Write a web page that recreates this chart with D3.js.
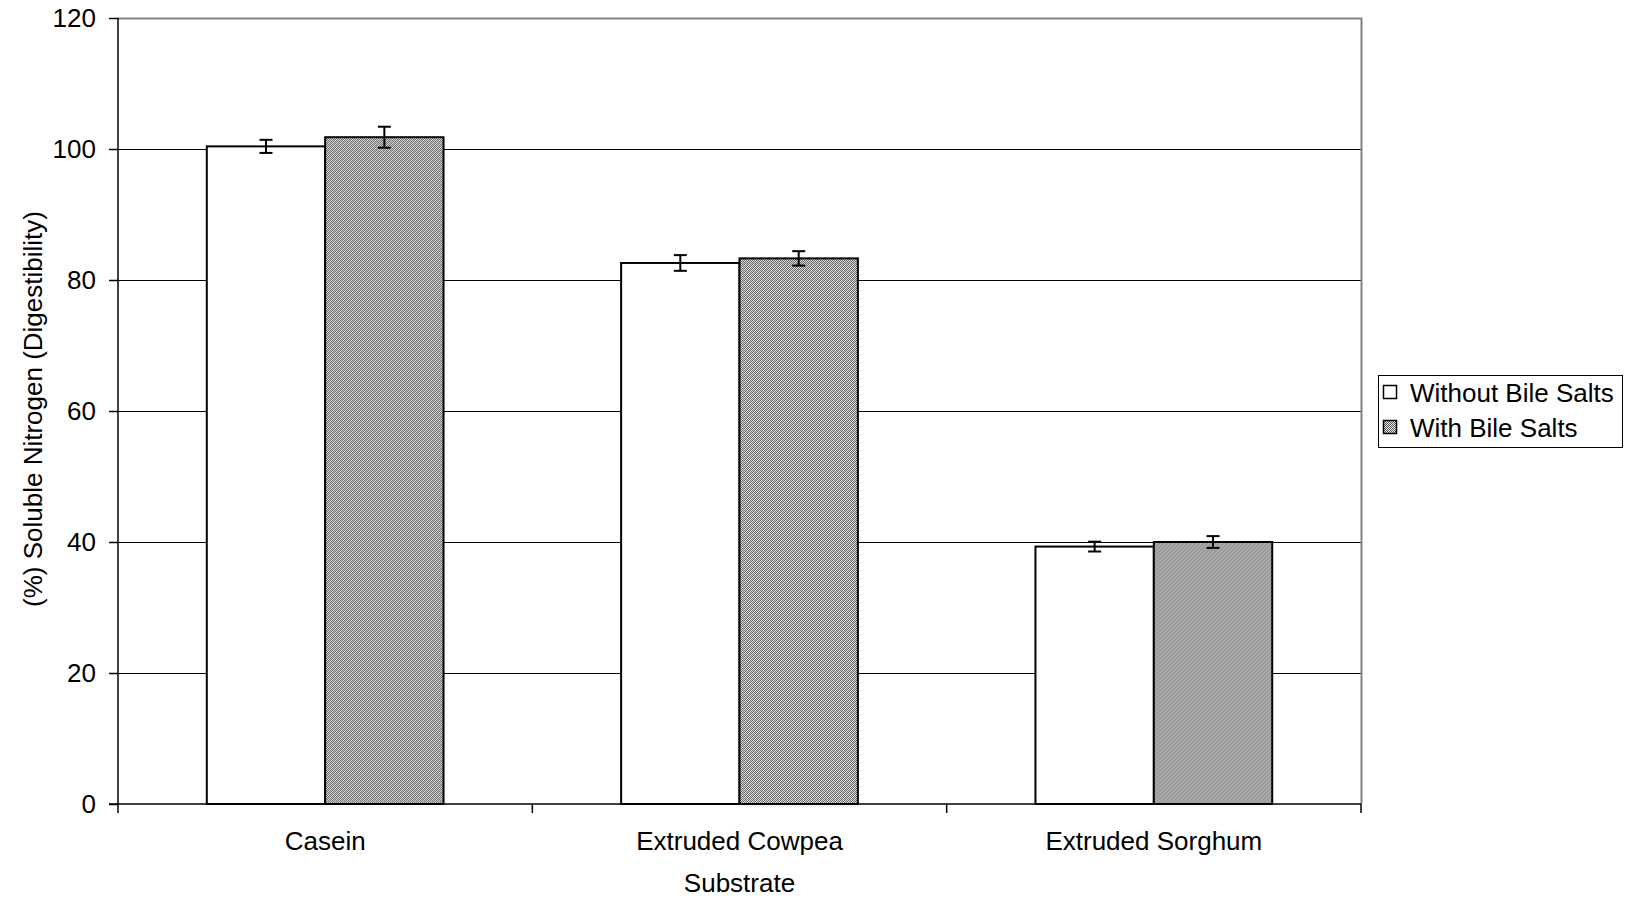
<!DOCTYPE html>
<html>
<head>
<meta charset="utf-8">
<script src="https://cdn.jsdelivr.net/npm/d3@7"></script>
<style>
  html, body { margin: 0; padding: 0; background: #fff; }
  svg { display: block; font-family: "Liberation Sans", Arial, sans-serif; }
</style>
</head>
<body>
<svg id="chart" width="1625" height="901"></svg>
<script>
const categories = ["Casein", "Extruded Cowpea", "Extruded Sorghum"];
const seriesNames = ["Without Bile Salts", "With Bile Salts"];
const withoutValues = [100.4, 82.6, 39.3];
const withoutErrors = [1.0, 1.2, 0.75];
const withValues = [101.8, 83.3, 40.0];
const withErrors = [1.6, 1.1, 0.9];
const yTicks = [0, 20, 40, 60, 80, 100, 120];
const xTitle = "Substrate";
const yTitle = "(%) Soluble Nitrogen (Digestibility)";

const svg = d3.select("#chart");
const L = 118, R = 1361, T = 18, B = 804;
const fs = 26;

const defs = svg.append("defs");
const pat = defs.append("pattern").attr("id", "hatch").attr("patternUnits", "userSpaceOnUse")
  .attr("width", 4).attr("height", 4);
const shades = ["#f8f8f8", "#606060", "#dcdcdc", "#505050"];
for (let px = 0; px < 4; px++) {
  for (let py = 0; py < 4; py++) {
    pat.append("rect").attr("x", px).attr("y", py).attr("width", 1).attr("height", 1)
      .attr("fill", shades[(px + py) % 4]);
  }
}

const y = d3.scaleLinear().domain([0, 120]).range([B, T]);
const x0 = d3.scaleBand().domain(categories).range([L, R]).paddingInner(0.4286).paddingOuter(0.2143);
const x1 = d3.scaleBand().domain(seriesNames).range([0, x0.bandwidth()]).padding(0);

const data = categories.map((c, i) => ({
  cat: c,
  vals: [
    { s: seriesNames[0], v: withoutValues[i], e: withoutErrors[i] },
    { s: seriesNames[1], v: withValues[i], e: withErrors[i] }
  ]
}));
const fills = { [seriesNames[0]]: "#ffffff", [seriesNames[1]]: "url(#hatch)" };

// gridlines
svg.append("g").selectAll("line").data(yTicks.filter(t => t > 0 && t < 120)).join("line")
  .attr("x1", L).attr("x2", R).attr("y1", d => Math.round(y(d)) + 0.5).attr("y2", d => Math.round(y(d)) + 0.5)
  .attr("stroke", "#000").attr("stroke-width", 1);
// plot border (top/right gray)
svg.append("path").attr("d", `M${L},${T + 0.5}H${R + 0.5}V${B}`)
  .attr("fill", "none").attr("stroke", "#808080").attr("stroke-width", 2);

// bars
const g = svg.append("g").selectAll("g").data(data).join("g")
  .attr("transform", d => `translate(${x0(d.cat)},0)`);
g.selectAll("rect").data(d => d.vals).join("rect")
  .attr("x", d => x1(d.s)).attr("width", x1.bandwidth())
  .attr("y", d => y(d.v)).attr("height", d => y(0) - y(d.v))
  .attr("fill", d => fills[d.s]).attr("stroke", "#000").attr("stroke-width", 2);
// error bars
const eb = g.selectAll("g.err").data(d => d.vals).join("g").attr("class", "err")
  .attr("transform", d => `translate(${x1(d.s) + x1.bandwidth() / 2},0)`);
eb.append("line").attr("x1", 0).attr("x2", 0).attr("y1", d => y(d.v + d.e)).attr("y2", d => y(d.v - d.e))
  .attr("stroke", "#000").attr("stroke-width", 2);
eb.append("line").attr("x1", -6.5).attr("x2", 6.5).attr("y1", d => y(d.v + d.e)).attr("y2", d => y(d.v + d.e))
  .attr("stroke", "#000").attr("stroke-width", 2);
eb.append("line").attr("x1", -6.5).attr("x2", 6.5).attr("y1", d => y(d.v - d.e)).attr("y2", d => y(d.v - d.e))
  .attr("stroke", "#000").attr("stroke-width", 2);

// y axis
const yAxis = d3.axisLeft(y).tickValues(yTicks).tickSize(9).tickPadding(13);
const ya = svg.append("g").attr("transform", `translate(${L},0)`).call(yAxis);
ya.select(".domain").attr("stroke", "#000").attr("stroke-width", 1.5).attr("d", `M0,${T}V${B}`);
ya.selectAll(".tick line").attr("stroke", "#000").attr("stroke-width", 1.5);
ya.selectAll(".tick text").attr("font-size", fs).attr("font-family", "Liberation Sans, Arial, sans-serif").attr("fill", "#000");

// x axis
const step = x0.step();
const bounds = [L].concat(categories.map(c => x0(c) + x0.bandwidth() / 2 + step / 2));
const xa = svg.append("g");
xa.append("line").attr("x1", L - 9).attr("x2", R).attr("y1", B).attr("y2", B).attr("stroke", "#000").attr("stroke-width", 1.5);
xa.selectAll("line.tk").data(bounds).join("line").attr("class", "tk")
  .attr("x1", d => d).attr("x2", d => d).attr("y1", B).attr("y2", B + 9).attr("stroke", "#000").attr("stroke-width", 1.5);
xa.selectAll("text").data(categories).join("text")
  .attr("x", d => x0(d) + x0.bandwidth() / 2).attr("y", 850)
  .attr("text-anchor", "middle").attr("font-size", fs).attr("fill", "#000").text(d => d);

// titles
svg.append("text").attr("x", (L + R) / 2).attr("y", 892).attr("text-anchor", "middle")
  .attr("font-size", fs).attr("fill", "#000").text(xTitle);
svg.append("text").attr("transform", `translate(42,${(T + B) / 2 - 2}) rotate(-90)`)
  .attr("text-anchor", "middle").attr("font-size", fs).attr("fill", "#000").text(yTitle);

// legend
const lg = svg.append("g");
lg.append("rect").attr("x", 1378.5).attr("y", 375.5).attr("width", 244).attr("height", 72)
  .attr("fill", "#fff").attr("stroke", "#000").attr("stroke-width", 1);
const li = lg.selectAll("g").data(seriesNames).join("g")
  .attr("transform", (d, i) => `translate(1383,${385 + i * 35})`);
li.append("rect").attr("x", 0.5).attr("y", 0.5).attr("width", 13).attr("height", 13)
  .attr("fill", d => fills[d]).attr("stroke", "#000").attr("stroke-width", 1.5);
li.append("text").attr("x", 27).attr("y", 17).attr("font-size", fs).attr("fill", "#000").text(d => d);
</script>
</body>
</html>
